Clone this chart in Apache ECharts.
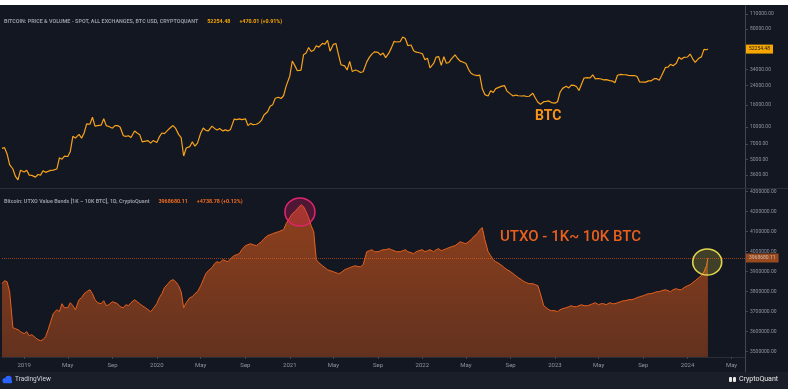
<!DOCTYPE html>
<html><head><meta charset="utf-8">
<script src="https://cdn.jsdelivr.net/npm/echarts@6/dist/echarts.min.js"></script>
<style>html,body{margin:0;padding:0;background:#131722;}#c{width:788px;height:389px;}</style>
</head><body><div id="c"></div>
<script>
// ---- data: samples on the 1st, 8th, 15th and 22nd of each month, Nov 2018 .. Feb 2024, plus the last bar ----
const btcPrice = [
  6350, 6450, 5650, 4500, 4100, 3500, 3250, 4000,
  3850, 4000, 3600, 3580, 3450, 3650, 3600, 3950, 3820, 3900, 3980, 4000, 4100, 5200, 5050, 5400,
  5350, 5950, 8200, 7900, 8550, 7900, 8800, 10700, 10600, 12300, 10200, 10300, 10400, 11900, 10300, 10100,
  9750, 10300, 10300, 10000, 8300, 8200, 8300, 8000, 9200, 8800, 8500, 7300, 7400, 7500, 7100, 7500,
  7200, 8100, 8800, 8700, 9400, 9900, 10300, 9700, 8550, 8000, 5400, 6400, 6600, 7300, 6650, 7100,
  8800, 9800, 9300, 9200, 10200, 9700, 9400, 9700, 9200, 9400, 9200, 9500, 11800, 11700, 11900, 11700,
  11900, 10300, 10800, 10500, 10600, 10900, 11500, 12900, 13800, 15500, 16000, 18400, 18800, 18300, 19400, 23800,
  29400, 40600, 36800, 33000, 33500, 46400, 48000, 54000, 49600, 50900, 56000, 54500, 59000, 58000, 63000, 50000,
  57800, 58900, 46700, 37500, 36600, 33500, 40200, 32500, 33500, 32800, 31800, 32300, 39800, 43800, 47000, 49300,
  48800, 46000, 48000, 43600, 48200, 53900, 61500, 60700, 61300, 67500, 65500, 56300, 57000, 50500, 48900, 48600,
  47300, 41600, 43100, 35000, 38500, 44100, 44500, 37000, 44400, 38700, 39300, 42400, 46300, 42800, 40500, 39700,
  38500, 34000, 31300, 30300, 29800, 30100, 22500, 19900, 19300, 21600, 20800, 22600, 23300, 23800, 24100, 21400,
  20100, 19300, 19700, 19400, 19300, 19400, 19100, 19200, 20500, 18500, 16900, 16200, 17100, 17200, 17400, 16800,
  16600, 17100, 20900, 22700, 23700, 22900, 24300, 24200, 23600, 21700, 24800, 28300, 28500, 28300, 30300, 27800,
  28000, 27700, 27200, 27300, 26800, 26500, 25600, 30000, 30600, 30300, 30300, 29900, 29700, 29800, 29200, 26000,
  25900, 25900, 26600, 26600, 27900, 27900, 27000, 30000, 35400, 35600, 37800, 36700, 38700, 44000, 42200, 43900,
  44200, 47000, 42500, 39500, 43100, 44300, 51900, 51500, 52254.48
];
// UTXO value bands (1K-10K BTC), in thousands
const utxoThousands = [
  3840, 3855, 3850, 3800, 3620, 3615, 3610, 3600,
  3590, 3600, 3580, 3585, 3570, 3560, 3555, 3560, 3575, 3610, 3650, 3690, 3710, 3700, 3740, 3720,
  3720, 3745, 3730, 3710, 3760, 3770, 3790, 3800, 3810, 3790, 3760, 3745, 3740, 3755, 3730, 3735,
  3750, 3745, 3740, 3725, 3720, 3735, 3730, 3745, 3760, 3750, 3740, 3730, 3720, 3710, 3700, 3715,
  3740, 3770, 3790, 3820, 3840, 3855, 3860, 3850, 3830, 3800, 3720, 3745, 3770, 3775, 3790, 3800,
  3830, 3860, 3890, 3905, 3920, 3940, 3950, 3945, 3960, 3955, 3950, 3965, 3980, 3985, 3990, 4010,
  4030, 4035, 4040, 4035, 4030, 4040, 4050, 4065, 4080, 4085, 4090, 4095, 4100, 4105, 4110, 4140,
  4170, 4190, 4200, 4215, 4235, 4225, 4200, 4170, 4130, 4100, 3960, 3945, 3930, 3920, 3910, 3905,
  3900, 3895, 3890, 3895, 3910, 3915, 3920, 3925, 3930, 3925, 3925, 3935, 4000, 4005, 4010, 4000,
  4000, 4005, 4010, 4010, 4015, 4010, 4005, 4000, 4000, 4005, 4010, 4000, 3995, 3990, 4000, 4005,
  4010, 4000, 4005, 4010, 4000, 4010, 4015, 4005, 4010, 4015, 4020, 4025, 4030, 4040, 4050, 4045,
  4040, 4050, 4060, 4075, 4090, 4110, 4120, 4060, 4000, 3980, 3960, 3950, 3940, 3930, 3920, 3910,
  3900, 3890, 3880, 3870, 3860, 3850, 3845, 3840, 3840, 3835, 3830, 3790, 3730, 3720, 3710, 3705,
  3705, 3700, 3710, 3715, 3720, 3725, 3730, 3725, 3725, 3730, 3735, 3730, 3730, 3735, 3740, 3745,
  3735, 3740, 3740, 3735, 3745, 3740, 3740, 3745, 3750, 3755, 3755, 3760, 3760, 3765, 3770, 3775,
  3780, 3785, 3790, 3790, 3795, 3800, 3800, 3805, 3810, 3805, 3800, 3810, 3815, 3810, 3810, 3820,
  3830, 3835, 3845, 3855, 3870, 3880, 3900, 3930, 3968.68011
];
const btcTicks = [110000, 80000, 34000, 24000, 16000, 10000, 7000, 5000, 3600];
const utxoTicks = [4300000, 4200000, 4100000, 4000000, 3900000, 3800000, 3700000, 3600000, 3500000];
const timeTickDates = ['2019-01-01','2019-05-01','2019-09-01','2020-01-01','2020-05-01','2020-09-01','2021-01-01','2021-05-01','2021-09-01','2022-01-01','2022-05-01','2022-09-01','2023-01-01','2023-05-01','2023-09-01','2024-01-01','2024-05-01'];
const timeTickLabels = ['2019','May','Sep','2020','May','Sep','2021','May','Sep','2022','May','Sep','2023','May','Sep','2024','May'];

const dates = [];
const pad = n => (n < 10 ? '0' : '') + n;
for (let y = 2018; y <= 2024; y++) {
  for (let m = 1; m <= 12; m++) {
    if (y === 2018 && m < 11) continue;
    if (y === 2024 && m > 2) break;
    ['01', '08', '15', '22'].forEach(d => dates.push(y + '-' + pad(m) + '-' + d));
  }
}
dates.push('2024-02-26');

const P = s => +echarts.time.parse(s);
const dateTs = dates.map(P);
const tickTs = timeTickDates.map(P);
const tickMap = new Map(tickTs.map((t, i) => [t, timeTickLabels[i]]));
const utxoValue = utxoThousands.map(v => v * 1000);
const lastBtc = btcPrice[btcPrice.length - 1];
const lastUtxo = utxoValue[utxoValue.length - 1];
const FONT = 'Roboto';
const BG = '#131722';
const AXIS = '#434651';
const LBL = '#8f939e';

const chart = echarts.init(document.getElementById('c'), null, {renderer: 'canvas'});
const xMin = P('2018-11-01'), xMax = P('2024-06-07');

chart.setOption({
  backgroundColor: BG,
  animation: false,
  textStyle: {fontFamily: FONT},
  title: [
    {left: 4, top: 13, padding: 0, text: '{a|BITCOIN: PRICE & VOLUME - SPOT, ALL EXCHANGES, BTC USD, CRYPTOQUANT}  {b|52254.48}  {b|+470.01 (+0.91%)}',
     textStyle: {rich: {a: {color: '#9598a1', fontSize: 5.4, fontFamily: FONT}, b: {color: '#f7a600', fontSize: 5.4, fontFamily: FONT}}}},
    {left: 4, top: 193, padding: 0, text: '{a|Bitcoin: UTXO Value Bands [1K – 10K BTC], 1D, CryptoQuant}  {b|3968680.11}  {b|+4738.78 (+0.12%)}',
     textStyle: {rich: {a: {color: '#9598a1', fontSize: 5.4, fontFamily: FONT}, b: {color: '#f26b1d', fontSize: 5.4, fontFamily: FONT}}}}
  ],
  grid: [
    {left: 2, right: 43, top: 6, height: 182},
    {left: 2, right: 43, top: 189, height: 168}
  ],
  xAxis: [
    {type: 'value', gridIndex: 0, min: xMin, max: xMax, show: false, splitLine: {show: false}},
    {type: 'value', gridIndex: 1, min: xMin, max: xMax,
     axisLine: {show: true, lineStyle: {color: '#2a2e39'}},
     axisTick: {show: true, length: 2, lineStyle: {color: AXIS}, customValues: tickTs},
     axisLabel: {show: true, customValues: tickTs, color: LBL, fontSize: 6, margin: 5, fontFamily: FONT,
       formatter: v => tickMap.get(v) || ''},
     splitLine: {show: false}}
  ],
  yAxis: [
    {type: 'log', logBase: 10, gridIndex: 0, position: 'right', min: 2740, max: 130400,
     axisLine: {show: true, lineStyle: {color: AXIS}},
     axisTick: {show: true, length: 3, lineStyle: {color: AXIS}, customValues: btcTicks},
     axisLabel: {show: true, customValues: btcTicks, color: LBL, fontSize: 5, margin: 5, fontFamily: FONT, formatter: v => (+v).toFixed(2)},
     splitLine: {show: false}},
    {type: 'value', gridIndex: 1, position: 'right', min: 3473500, max: 4313500,
     axisLine: {show: true, lineStyle: {color: AXIS}},
     axisTick: {show: true, length: 3, lineStyle: {color: AXIS}, customValues: utxoTicks},
     axisLabel: {show: true, customValues: utxoTicks, color: LBL, fontSize: 5, margin: 5, fontFamily: FONT, formatter: v => (+v).toFixed(2)},
     splitLine: {show: false}}
  ],
  series: [
    {type: 'line', xAxisIndex: 0, yAxisIndex: 0, showSymbol: false, silent: true,
     data: dateTs.map((d, i) => [d, btcPrice[i]]),
     lineStyle: {color: '#f7a21b', width: 1.2},
     markLine: {silent: true, symbol: 'none', z: 20, animation: false,
       lineStyle: {color: 'transparent', width: 0},
       data: [{yAxis: lastBtc}],
       label: {show: true, position: 'end', distance: 1, formatter: lastBtc.toFixed(2),
         backgroundColor: '#f7a600', color: '#1a1a1a', fontSize: 5, padding: [2, 3], fontFamily: FONT}}},
    {type: 'line', xAxisIndex: 1, yAxisIndex: 1, showSymbol: false, silent: true,
     data: dateTs.map((d, i) => [d, utxoValue[i]]),
     lineStyle: {color: '#e8601c', width: 1},
     areaStyle: {origin: 'start', color: {type: 'linear', x: 0, y: 0, x2: 0, y2: 1, colorStops: [
       {offset: 0, color: 'rgba(226,92,26,0.85)'}, {offset: 1, color: 'rgba(226,92,26,0.55)'}]}},
     markLine: {silent: true, symbol: 'none', z: 20, animation: false,
       lineStyle: {color: '#e8601c', width: 1, type: 'dotted', opacity: 0.6},
       data: [{yAxis: lastUtxo}],
       label: {show: true, position: 'end', distance: 1, formatter: lastUtxo.toFixed(2),
         backgroundColor: '#f26b1d', color: '#ffffff', fontSize: 5, padding: [2, 3], fontFamily: FONT}},
     markPoint: {silent: true, animation: false, label: {show: false},
       data: [
         {coord: [P('2021-01-29'), 4198500], symbol: 'circle', symbolSize: [30, 28],
          itemStyle: {color: 'rgba(233,30,99,0.28)', borderColor: '#e0246f', borderWidth: 1.5}},
         {coord: [P('2024-02-24'), 3948500], symbol: 'circle', symbolSize: [29, 26],
          itemStyle: {color: 'rgba(225,215,60,0.22)', borderColor: '#e2d44c', borderWidth: 1.5}}
       ]}}
  ],
  graphic: [
    {type: 'rect', shape: {x: 0, y: 0, width: 788, height: 5}, style: {fill: '#ffffff'}, z: 100},
    {type: 'line', shape: {x1: 0, y1: 188.5, x2: 788, y2: 188.5}, style: {stroke: '#2a2e39', lineWidth: 1}, z: 50},
    {type: 'line', shape: {x1: 745.5, y1: 357, x2: 745.5, y2: 372}, style: {stroke: AXIS, lineWidth: 1}, z: 50},
    {type: 'rect', shape: {x: 0, y: 372, width: 788, height: 17}, style: {fill: '#1a1e29'}, z: 40},
    {type: 'circle', shape: {cx: 5, cy: 380.5, r: 2.6}, style: {fill: '#2962ff'}, z: 60},
    {type: 'circle', shape: {cx: 8.5, cy: 379, r: 3.2}, style: {fill: '#2962ff'}, z: 60},
    {type: 'rect', shape: {x: 3, y: 380, width: 9, height: 3.2, r: 1}, style: {fill: '#2962ff'}, z: 60},
    {type: 'text', left: 15, top: 376, style: {text: 'TradingView', fill: '#d1d4dc', fontSize: 6.5, fontFamily: FONT}, z: 60},
    {type: 'rect', shape: {x: 729, y: 377, width: 3, height: 5, r: 1}, style: {fill: '#e8e8e8'}, z: 60},
    {type: 'rect', shape: {x: 733, y: 377, width: 3, height: 5, r: 1}, style: {fill: '#e8e8e8'}, z: 60},
    {type: 'text', left: 739, top: 375.5, style: {text: 'CryptoQuant', fill: '#e8e8e8', fontSize: 7, fontFamily: FONT}, z: 60},
    {type: 'text', left: 535, top: 109, style: {text: 'BTC', fill: '#f7931a', fontSize: 14, fontWeight: 'bold', fontFamily: FONT}, z: 60},
    {type: 'text', left: 500, top: 230, style: {text: 'UTXO - 1K~ 10K BTC', fill: '#e8601c', fontSize: 15, fontWeight: 500, fontFamily: FONT}, z: 60}
  ]
});
</script></body></html>
